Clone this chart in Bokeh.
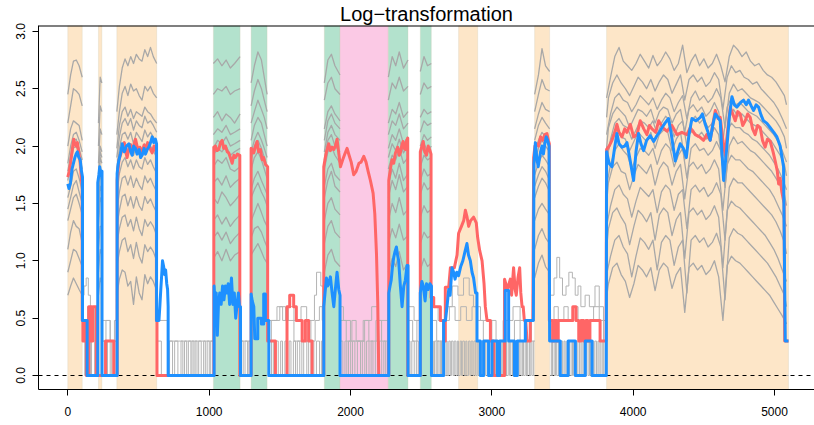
import math
from bokeh.plotting import figure
from bokeh.models import (Range1d, LinearAxis, FixedTicker, NumeralTickFormatter,
                          BoxAnnotation, Span)
from bokeh.embed import file_html
from bokeh.resources import INLINE

TITLE = "Log\u2212transformation"
X_TICKS = [0, 1000, 2000, 3000, 4000, 5000]
Y_TICKS = [0.0, 0.5, 1.0, 1.5, 2.0, 2.5, 3.0]

# shaded regions
REGION_START = [0, 217, 347, 1030, 1297, 1815, 1926, 2268, 2494, 2765, 3303, 3812]
REGION_END = [102, 241, 629, 1219, 1410, 1926, 2268, 2407, 2572, 2900, 3409, 5099]
REGION_KIND = ["orange", "orange", "orange", "green", "green", "green", "pink",
               "green", "green", "orange", "orange", "orange"]

# red series (x, y)
RED = [
    (0, 1.73), (10, 1.78), (19, 1.85), (30, 1.95), (42, 2.06), (50, 2.02), (59, 2.0), (68, 2.03),
    (78, 1.94), (88, 1.85), (97, 1.70), (102, 1.66),
    (102, 0.48), (107, 0.48), (107, 0.3), (111, 0.3), (111, 0.48), (116, 0.48), (116, 0.3),
    (120, 0.3), (120, 0.48), (125, 0.48), (125, 0.3), (132, 0.3), (132, 0),
    (148, 0), (148, 0.6), (156, 0.6), (156, 0.3), (161, 0.3), (161, 0.6), (170, 0.6), (170, 0.3),
    (176, 0.3), (176, 0.6), (202, 0.6), (202, 0),
    (267, 0), (267, 0.3), (325, 0.3), (325, 0),
    (349, 0), (349, 1.70), (356, 1.80), (362, 1.88), (372, 1.92), (385, 1.97), (400, 2.03),
    (410, 1.95), (420, 1.90), (432, 1.98), (445, 2.01), (460, 1.96), (470, 2.02), (479, 2.06),
    (490, 2.0), (500, 1.95), (510, 1.99), (526, 1.95), (540, 2.01), (555, 1.96), (565, 2.03),
    (573, 2.0), (585, 1.97), (597, 1.94), (610, 2.0), (620, 1.96), (627, 1.98),
    (627, 0.48), (631, 0.48), (631, 0),
    (1033, 0), (1033, 1.99), (1045, 2.0), (1055, 1.96), (1068, 1.97), (1080, 2.03), (1092, 2.05),
    (1103, 1.98), (1115, 2.0), (1128, 1.95), (1139, 1.94), (1150, 1.9), (1163, 1.85), (1175, 1.92),
    (1186, 1.9), (1200, 1.93), (1217, 1.92), (1217, 0),
    (1297, 0), (1297, 1.98), (1305, 1.97), (1316, 1.94), (1328, 2.0), (1339, 2.04), (1350, 1.95),
    (1363, 1.97), (1375, 1.88), (1386, 1.9), (1398, 1.84), (1414, 1.82),
    (1414, 0.3), (1469, 0.3), (1469, 0), (1551, 0), (1551, 0.6), (1570, 0.6), (1570, 0.7),
    (1598, 0.7), (1598, 0.6), (1617, 0.6), (1617, 0.48), (1658, 0.48), (1658, 0.3), (1681, 0.3),
    (1681, 0.48), (1704, 0.48), (1704, 0.3), (1728, 0.3), (1728, 0),
    (1811, 0), (1811, 1.82), (1822, 1.9), (1830, 1.95), (1846, 2.02), (1858, 1.96), (1870, 1.99),
    (1882, 1.97), (1893, 2.0), (1905, 2.06), (1915, 1.96), (1929, 1.82), (1945, 1.88), (1960, 1.93),
    (1976, 1.98), (1990, 1.92), (2005, 1.86), (2023, 1.75), (2040, 1.78), (2060, 1.85), (2075, 1.86),
    (2094, 1.91), (2110, 1.86), (2125, 1.78), (2141, 1.70), (2160, 1.59), (2172, 1.41), (2184, 1.06),
    (2193, 0.63), (2200, 0.02), (2200, 0),
    (2271, 0), (2271, 1.70), (2282, 1.80), (2294, 1.88), (2306, 1.85), (2318, 1.94), (2334, 1.99),
    (2345, 1.92), (2353, 1.94), (2362, 2.0), (2372, 2.04), (2380, 1.98), (2388, 1.97), (2398, 2.05),
    (2405, 2.07), (2405, 0),
    (2494, 0), (2494, 1.95), (2505, 2.0), (2515, 2.04), (2525, 1.95), (2538, 1.92), (2550, 2.0),
    (2560, 1.97), (2570, 1.93),
    (2570, 0.68), (2589, 0.68), (2589, 0.6), (2636, 0.6), (2636, 0.48), (2660, 0.48), (2660, 0.3),
    (2671, 0.3), (2671, 0.77), (2695, 0.77), (2707, 0.94), (2735, 0.94), (2754, 1.05), (2765, 1.24),
    (2785, 1.30), (2801, 1.35), (2813, 1.44), (2825, 1.38), (2836, 1.30), (2850, 1.35), (2871, 1.38),
    (2890, 1.33), (2900, 1.20), (2914, 1.09), (2931, 1.0), (2945, 0.8), (2954, 0.6), (2966, 0.48),
    (2990, 0.48), (2990, 0.3), (3013, 0.3), (3013, 0),
    (3090, 0), (3090, 0.84), (3110, 0.75), (3131, 0.84), (3140, 0.7), (3154, 0.94), (3165, 0.75),
    (3173, 0.7), (3185, 0.85), (3197, 0.94), (3205, 0.72), (3214, 0.6), (3222, 0.6), (3230, 0.48),
    (3240, 0.48), (3249, 0.3), (3272, 0.3), (3272, 0.48), (3290, 0.48),
    (3296, 1.90), (3305, 2.0), (3315, 2.02), (3330, 2.0), (3345, 2.08), (3360, 2.05), (3375, 2.1),
    (3390, 2.11), (3400, 2.05), (3407, 2.02),
    (3407, 0.48), (3430, 0.48), (3430, 0.3), (3440, 0.3), (3440, 0.48), (3460, 0.48), (3460, 0.3),
    (3470, 0.3), (3470, 0.48), (3573, 0.48), (3573, 0.6), (3596, 0.6), (3596, 0.48), (3615, 0.48),
    (3615, 0.3), (3630, 0.3), (3630, 0.48), (3650, 0.48), (3650, 0.3), (3665, 0.3), (3665, 0.48),
    (3680, 0.48), (3680, 0.3), (3694, 0.3), (3694, 0.48), (3766, 0.48), (3766, 0.3), (3808, 0.3),
    (3812, 1.97), (3830, 2.0), (3850, 2.05), (3870, 2.12), (3885, 2.19), (3900, 2.12), (3921, 2.08),
    (3940, 2.15), (3956, 2.12), (3980, 2.19), (4003, 2.08), (4027, 2.1), (4050, 2.22), (4075, 2.15),
    (4097, 2.1), (4115, 2.18), (4133, 2.15), (4160, 2.12), (4180, 2.22), (4210, 2.16), (4239, 2.13),
    (4274, 2.18), (4310, 2.1), (4345, 2.12), (4380, 2.1), (4404, 2.16), (4439, 2.10), (4470, 2.08),
    (4498, 2.05), (4520, 2.1), (4545, 2.05), (4565, 2.2), (4581, 2.31), (4600, 2.24), (4616, 2.25),
    (4635, 2.05), (4651, 1.92), (4670, 2.15), (4687, 2.34), (4705, 2.28), (4722, 2.22), (4740, 2.3),
    (4757, 2.28), (4775, 2.18), (4793, 2.22), (4810, 2.28), (4828, 2.25), (4845, 2.15), (4863, 2.10),
    (4880, 2.18), (4899, 2.16), (4915, 2.05), (4934, 1.99), (4950, 2.06), (4970, 2.04), (4990, 1.95),
    (5005, 1.87), (5020, 1.78), (5029, 1.67), (5040, 1.72), (5052, 1.60), (5068, 1.5), (5072, 0.3),
    (5099, 0.3),
]

# blue series (x, y)
BLUE = [
    (0, 1.67), (8, 1.63), (19, 1.68), (30, 1.80), (42, 1.86), (50, 1.90), (59, 1.93), (68, 1.95),
    (78, 1.90), (88, 1.88), (97, 1.78), (104, 1.73),
    (104, 0.48), (137, 0.48), (137, 0),
    (212, 0), (212, 1.68), (220, 1.75), (226, 1.82), (236, 1.74), (242, 1.78), (242, 0),
    (349, 0), (349, 1.76), (356, 1.84), (362, 1.88), (372, 1.93), (385, 2.02), (393, 1.97),
    (400, 1.95), (415, 2.0), (432, 2.02), (445, 1.95), (455, 1.92), (466, 2.0), (479, 1.98),
    (490, 1.93), (505, 1.97), (515, 1.9), (526, 1.92), (540, 1.98), (550, 1.93), (562, 1.97),
    (573, 1.99), (585, 2.03), (597, 2.08), (608, 2.03), (620, 2.06), (628, 2.02),
    (628, 0.48), (645, 0.48), (652, 0.62), (658, 0.75), (663, 0.85), (670, 1.0), (678, 0.95),
    (685, 0.88), (692, 0.92), (700, 0.8), (706, 0.75), (710, 0.6), (710, 0),
    (1035, 0), (1035, 0.78), (1042, 0.62), (1050, 0.72), (1058, 0.35), (1066, 0.62), (1075, 0.72),
    (1085, 0.62), (1095, 0.78), (1105, 0.66), (1115, 0.78), (1125, 0.72), (1135, 0.8), (1145, 0.62),
    (1158, 0.85), (1168, 0.62), (1178, 0.72), (1188, 0.5), (1198, 0.62), (1207, 0.72), (1215, 0.6),
    (1222, 0.6), (1222, 0),
    (1297, 0), (1297, 0.71), (1305, 0.65), (1316, 0.6), (1323, 0.32), (1344, 0.32), (1344, 0.5),
    (1370, 0.5), (1370, 0.45), (1386, 0.45), (1386, 0.71), (1398, 0.71), (1398, 0.48), (1422, 0.48),
    (1422, 0),
    (1811, 0), (1811, 0.6), (1820, 0.72), (1830, 0.85), (1838, 0.78), (1846, 0.8), (1858, 0.86),
    (1870, 0.72), (1882, 0.6), (1893, 0.75), (1905, 0.9), (1917, 0.75), (1926, 0.7), (1926, 0),
    (2271, 0), (2271, 0.72), (2280, 0.78), (2288, 0.83), (2297, 0.95), (2306, 1.03), (2315, 1.08),
    (2325, 1.12), (2333, 1.05), (2341, 1.0), (2353, 0.78), (2365, 0.6), (2377, 0.78), (2388, 0.83),
    (2400, 0.96), (2407, 0.96), (2407, 0),
    (2494, 0), (2494, 0.72), (2505, 0.82), (2515, 0.78), (2528, 0.65), (2538, 0.8), (2550, 0.75),
    (2562, 0.8), (2573, 0.78), (2573, 0),
    (2659, 0), (2659, 0.48), (2672, 0.48), (2683, 0.6), (2695, 0.75), (2705, 0.7), (2718, 0.94),
    (2730, 0.9), (2740, 0.84), (2752, 0.9), (2765, 0.87), (2780, 0.95), (2795, 1.0), (2810, 1.08),
    (2824, 1.15), (2835, 1.05), (2848, 1.0), (2860, 0.9), (2871, 0.85), (2885, 0.72), (2895, 0.72),
    (2895, 0.3), (2919, 0.3), (2919, 0), (2942, 0), (2942, 0.3), (2977, 0.3), (2977, 0), (3001, 0),
    (3001, 0.3), (3040, 0.3), (3040, 0), (3055, 0), (3055, 0.3), (3095, 0.3), (3095, 0.74),
    (3119, 0.74), (3119, 0.3), (3160, 0.3), (3160, 0), (3180, 0), (3180, 0.3), (3237, 0.3),
    (3237, 0.48), (3294, 0.48),
    (3298, 1.85), (3308, 2.03), (3318, 1.9), (3328, 1.82), (3336, 1.88), (3345, 1.95), (3355, 2.0),
    (3365, 1.93), (3375, 2.02), (3385, 2.08), (3395, 2.05), (3405, 2.0),
    (3409, 0.3), (3484, 0.3), (3484, 0), (3540, 0), (3540, 0.3), (3591, 0.3), (3591, 0), (3661, 0),
    (3661, 0.3), (3709, 0.3), (3709, 0), (3810, 0),
    (3812, 1.95), (3830, 1.85), (3850, 1.82), (3868, 1.98), (3885, 2.11), (3900, 2.02), (3921, 1.99),
    (3940, 2.0), (3956, 2.03), (3975, 1.9), (4003, 1.70), (4020, 1.95), (4038, 2.11), (4055, 2.02),
    (4074, 1.96), (4095, 2.05), (4121, 2.09), (4145, 2.04), (4168, 2.09), (4185, 2.12), (4204, 2.16),
    (4225, 2.2), (4250, 2.24), (4270, 2.1), (4298, 1.87), (4315, 1.95), (4333, 2.02), (4355, 1.98),
    (4376, 1.90), (4395, 2.1), (4416, 2.24), (4445, 2.22), (4475, 2.25), (4490, 2.28), (4510, 2.19),
    (4530, 2.12), (4545, 2.05), (4563, 2.18), (4581, 2.28), (4600, 2.25), (4616, 2.22), (4628, 1.95),
    (4640, 1.70), (4652, 1.85), (4663, 1.99), (4680, 2.25), (4699, 2.43), (4716, 2.36), (4734, 2.34),
    (4760, 2.38), (4781, 2.40), (4800, 2.36), (4816, 2.40), (4835, 2.35), (4852, 2.31), (4870, 2.36),
    (4887, 2.34), (4905, 2.27), (4922, 2.22), (4945, 2.2), (4970, 2.16), (4995, 2.12), (5017, 2.08),
    (5040, 2.0), (5064, 1.82), (5076, 0.3), (5099, 0.3),
]

# gray series inside the high regions: x grid and 12 series per region
GX_R1 = [0, 20, 40, 60, 80, 102]
GY_R1 = [
    [2.45, 2.62, 2.74, 2.75, 2.70, 2.60], [2.20, 2.35, 2.50, 2.48, 2.45, 2.35],
    [2.00, 2.15, 2.22, 2.20, 2.18, 2.05], [1.85, 2.00, 2.10, 2.12, 2.05, 1.95],
    [1.70, 1.85, 1.98, 2.00, 1.92, 1.80], [1.55, 1.65, 1.78, 1.80, 1.72, 1.60],
    [1.35, 1.45, 1.55, 1.58, 1.50, 1.40], [1.10, 1.25, 1.35, 1.30, 1.28, 1.15],
    [0.90, 1.00, 1.10, 1.08, 1.02, 0.95], [0.70, 0.78, 0.85, 0.80, 0.75, 0.70],
    [1.78, 1.92, 2.05, 2.06, 1.98, 1.88], [1.45, 1.55, 1.66, 1.70, 1.60, 1.50],
]
GX_R2 = [217, 229, 241]
GY_R2 = [
    [2.2, 2.6, 2.55], [2.0, 2.35, 2.3], [1.85, 2.15, 2.1], [1.75, 2.0, 1.95], [1.6, 1.9, 1.85],
    [1.45, 1.75, 1.7], [1.3, 1.55, 1.5], [1.1, 1.3, 1.3], [0.9, 1.1, 1.05], [0.7, 0.85, 0.8],
    [1.68, 1.95, 1.9], [1.38, 1.65, 1.6],
]
GX_R3 = [347, 365, 385, 405, 425, 445, 465, 485, 505, 525, 545, 565, 585, 605, 629]
GY_R3 = [
    [2.30, 2.52, 2.68, 2.76, 2.70, 2.78, 2.72, 2.80, 2.76, 2.74, 2.84, 2.78, 2.86, 2.78, 2.72],
    [2.10, 2.30, 2.46, 2.52, 2.44, 2.54, 2.48, 2.50, 2.44, 2.40, 2.52, 2.48, 2.52, 2.46, 2.42],
    [1.98, 2.18, 2.30, 2.34, 2.26, 2.32, 2.24, 2.30, 2.28, 2.26, 2.34, 2.30, 2.28, 2.24, 2.20],
    [1.90, 2.08, 2.20, 2.24, 2.18, 2.24, 2.14, 2.22, 2.18, 2.16, 2.26, 2.20, 2.22, 2.18, 2.12],
    [1.80, 1.98, 2.10, 2.12, 2.06, 2.12, 2.02, 2.12, 2.08, 2.04, 2.14, 2.08, 2.12, 2.08, 2.02],
    [1.70, 1.88, 1.98, 2.02, 1.94, 2.02, 1.92, 2.00, 1.96, 1.94, 2.02, 1.98, 2.00, 1.96, 1.90],
    [1.58, 1.76, 1.86, 1.90, 1.82, 1.88, 1.80, 1.88, 1.82, 1.80, 1.90, 1.84, 1.88, 1.82, 1.76],
    [1.44, 1.60, 1.72, 1.74, 1.66, 1.74, 1.64, 1.72, 1.66, 1.62, 1.74, 1.68, 1.72, 1.66, 1.60],
    [1.30, 1.44, 1.56, 1.58, 1.48, 1.56, 1.46, 1.56, 1.48, 1.44, 1.56, 1.50, 1.54, 1.48, 1.42],
    [1.15, 1.28, 1.38, 1.40, 1.30, 1.36, 1.26, 1.38, 1.28, 1.22, 1.36, 1.30, 1.34, 1.30, 1.22],
    [0.95, 1.08, 1.18, 1.20, 1.08, 1.14, 1.02, 1.16, 1.04, 0.98, 1.14, 1.08, 1.12, 1.08, 1.00],
    [0.70, 0.84, 0.92, 0.90, 0.78, 0.82, 0.62, 0.86, 0.72, 0.66, 0.88, 0.80, 0.86, 0.82, 0.74],
]
GX_G1 = [1030, 1060, 1090, 1120, 1150, 1180, 1219]
GY_G1 = [
    [2.72, 2.76, 2.70, 2.75, 2.68, 2.72, 2.78], [2.45, 2.50, 2.48, 2.52, 2.45, 2.48, 2.50],
    [2.25, 2.30, 2.22, 2.28, 2.25, 2.20, 2.28], [2.10, 2.15, 2.12, 2.18, 2.10, 2.12, 2.15],
    [1.98, 2.05, 2.02, 2.08, 2.00, 2.02, 2.05], [1.82, 1.88, 1.85, 1.90, 1.80, 1.78, 1.82],
    [1.55, 1.50, 1.60, 1.55, 1.48, 1.52, 1.58], [1.35, 1.40, 1.32, 1.38, 1.30, 1.35, 1.40],
    [1.20, 1.25, 1.18, 1.25, 1.15, 1.20, 1.25], [1.02, 1.08, 1.00, 1.10, 1.00, 1.05, 1.08],
    [1.92, 1.98, 1.95, 2.00, 1.92, 1.95, 1.98], [1.68, 1.72, 1.66, 1.74, 1.64, 1.68, 1.72],
]
GX_G2 = [1297, 1320, 1345, 1370, 1390, 1410]
GY_G2 = [
    [2.55, 2.70, 2.82, 2.75, 2.60, 2.45], [2.35, 2.48, 2.58, 2.50, 2.40, 2.30],
    [2.20, 2.30, 2.40, 2.32, 2.25, 2.15], [2.05, 2.18, 2.25, 2.20, 2.10, 2.00],
    [1.95, 2.05, 2.12, 2.05, 1.98, 1.90], [1.80, 1.90, 1.95, 1.88, 1.80, 1.72],
    [1.55, 1.62, 1.68, 1.60, 1.55, 1.48], [1.35, 1.42, 1.50, 1.42, 1.35, 1.30],
    [1.20, 1.28, 1.30, 1.25, 1.18, 1.12], [1.05, 1.10, 1.15, 1.08, 1.02, 0.98],
    [1.88, 2.00, 2.05, 1.98, 1.90, 1.82], [1.62, 1.72, 1.78, 1.70, 1.64, 1.58],
]
GX_G3 = [1815, 1840, 1865, 1890, 1926]
GY_G3 = [
    [2.55, 2.75, 2.80, 2.70, 2.62], [2.40, 2.55, 2.60, 2.50, 2.45], [2.15, 2.30, 2.35, 2.28, 2.22],
    [2.05, 2.22, 2.28, 2.20, 2.15], [1.95, 2.12, 2.18, 2.10, 2.05], [1.80, 1.95, 2.00, 1.92, 1.85],
    [1.55, 1.70, 1.78, 1.65, 1.60], [1.35, 1.50, 1.55, 1.45, 1.40], [1.15, 1.30, 1.35, 1.25, 1.20],
    [0.90, 1.05, 1.10, 1.00, 0.95], [1.88, 2.05, 2.10, 2.00, 1.95], [1.65, 1.80, 1.85, 1.75, 1.70],
]
GX_G4 = [2268, 2295, 2320, 2345, 2375, 2407]
GY_G4 = [
    [2.60, 2.78, 2.70, 2.82, 2.68, 2.75], [2.40, 2.55, 2.50, 2.60, 2.48, 2.52],
    [2.20, 2.32, 2.28, 2.38, 2.25, 2.30], [2.10, 2.22, 2.18, 2.28, 2.15, 2.20],
    [1.98, 2.10, 2.05, 2.15, 2.02, 2.08], [1.80, 1.92, 1.88, 1.98, 1.85, 1.90],
    [1.55, 1.70, 1.62, 1.75, 1.60, 1.65], [1.35, 1.50, 1.42, 1.55, 1.40, 1.45],
    [1.15, 1.28, 1.20, 1.32, 1.18, 1.22], [0.90, 1.02, 0.95, 1.08, 0.92, 0.98],
    [1.90, 2.02, 1.96, 2.06, 1.94, 2.00], [1.66, 1.80, 1.72, 1.85, 1.70, 1.76],
]
GX_G5 = [2494, 2520, 2545, 2572]
GY_G5 = [
    [2.65, 2.78, 2.70, 2.72], [2.45, 2.55, 2.50, 2.52], [2.25, 2.32, 2.28, 2.30],
    [2.12, 2.22, 2.18, 2.20], [2.00, 2.10, 2.05, 2.08], [1.82, 1.92, 1.88, 1.90],
    [1.58, 1.68, 1.62, 1.65], [1.38, 1.48, 1.42, 1.45], [1.15, 1.25, 1.20, 1.22],
    [0.92, 1.02, 0.95, 0.98], [1.92, 2.02, 1.96, 2.00], [1.70, 1.80, 1.74, 1.76],
]
GX_O5 = [3303, 3330, 3355, 3380, 3409]
GY_O5 = [
    [2.45, 2.62, 2.85, 2.70, 2.65], [2.30, 2.45, 2.58, 2.50, 2.48], [2.15, 2.28, 2.38, 2.32, 2.30],
    [2.05, 2.18, 2.25, 2.20, 2.15], [1.95, 2.05, 2.12, 2.08, 2.02], [1.75, 1.85, 1.92, 1.88, 1.82],
    [1.55, 1.65, 1.72, 1.68, 1.60], [1.35, 1.45, 1.50, 1.45, 1.40], [1.10, 1.22, 1.28, 1.20, 1.15],
    [0.85, 0.98, 1.05, 0.95, 0.90], [1.85, 1.98, 2.05, 2.00, 1.95], [1.65, 1.75, 1.82, 1.78, 1.70],
]
# big region: even-numbered series sampled on grid A, odd-numbered on grid B
GX_BIG_A = [3812, 3840, 3870, 3900, 3930, 3960, 3990, 4020, 4050, 4080, 4110, 4140, 4170, 4200,
            4230, 4260, 4290, 4320, 4350, 4380, 4410, 4440, 4470, 4500, 4530, 4560, 4590, 4620,
            4650, 4680, 4710, 4740, 4770, 4800, 4830, 4860, 4890, 4920, 4950, 4980, 5010, 5040,
            5070, 5085]
GX_BIG_B = [3812, 3825, 3855, 3885, 3915, 3945, 3975, 4005, 4035, 4065, 4095, 4125, 4155, 4185,
            4215, 4245, 4275, 4305, 4335, 4365, 4395, 4425, 4455, 4485, 4515, 4545, 4575, 4605,
            4635, 4665, 4695, 4725, 4755, 4785, 4815, 4845, 4875, 4905, 4935, 4965, 4995, 5025,
            5055, 5085]
GY_BIG = [
    [2.42, 2.60, 2.78, 2.86, 2.74, 2.70, 2.66, 2.72, 2.80, 2.74, 2.68, 2.79, 2.70, 2.75, 2.82,
     2.76, 2.66, 2.72, 2.88, 2.64, 2.74, 2.80, 2.70, 2.76, 2.68, 2.72, 2.80, 2.70, 2.56, 2.78,
     2.88, 2.84, 2.78, 2.82, 2.74, 2.70, 2.72, 2.66, 2.62, 2.60, 2.56, 2.50, 2.44, 2.36],
    [2.25, 2.42, 2.55, 2.62, 2.55, 2.50, 2.44, 2.52, 2.60, 2.56, 2.50, 2.58, 2.48, 2.56, 2.62,
     2.58, 2.46, 2.54, 2.62, 2.40, 2.58, 2.62, 2.56, 2.60, 2.52, 2.56, 2.64, 2.58, 2.32, 2.60,
     2.70, 2.64, 2.66, 2.60, 2.58, 2.54, 2.56, 2.50, 2.46, 2.42, 2.38, 2.32, 2.24, 2.15],
    [2.10, 2.28, 2.42, 2.46, 2.40, 2.38, 2.30, 2.36, 2.44, 2.40, 2.36, 2.42, 2.32, 2.40, 2.46,
     2.42, 2.30, 2.38, 2.44, 2.24, 2.42, 2.48, 2.40, 2.44, 2.38, 2.42, 2.50, 2.42, 2.16, 2.46,
     2.54, 2.48, 2.50, 2.46, 2.42, 2.40, 2.38, 2.34, 2.30, 2.26, 2.22, 2.16, 2.08, 1.98],
    [1.98, 2.16, 2.28, 2.34, 2.30, 2.26, 2.16, 2.24, 2.32, 2.30, 2.26, 2.32, 2.20, 2.30, 2.34,
     2.32, 2.20, 2.28, 2.32, 2.12, 2.32, 2.36, 2.30, 2.34, 2.26, 2.30, 2.38, 2.30, 2.04, 2.34,
     2.42, 2.36, 2.38, 2.34, 2.30, 2.28, 2.26, 2.22, 2.18, 2.14, 2.10, 2.04, 1.96, 1.86],
    [1.88, 2.06, 2.20, 2.24, 2.18, 2.16, 2.06, 2.14, 2.22, 2.20, 2.16, 2.22, 2.10, 2.20, 2.26,
     2.22, 2.08, 2.18, 2.22, 2.00, 2.22, 2.26, 2.20, 2.24, 2.16, 2.20, 2.28, 2.20, 1.92, 2.24,
     2.32, 2.26, 2.28, 2.24, 2.20, 2.18, 2.16, 2.12, 2.08, 2.04, 1.98, 1.92, 1.84, 1.74],
    [1.78, 1.96, 2.10, 2.14, 2.08, 2.06, 1.96, 2.04, 2.12, 2.08, 2.04, 2.12, 1.98, 2.10, 2.14,
     2.12, 1.96, 2.06, 2.12, 1.88, 2.10, 2.14, 2.08, 2.12, 2.06, 2.08, 2.16, 2.10, 1.80, 2.12,
     2.20, 2.16, 2.16, 2.12, 2.10, 2.06, 2.04, 2.00, 1.96, 1.92, 1.86, 1.80, 1.72, 1.62],
    [1.65, 1.84, 1.96, 2.02, 1.96, 1.92, 1.80, 1.90, 1.98, 1.96, 1.92, 1.98, 1.84, 1.96, 2.02,
     1.98, 1.82, 1.92, 1.98, 1.72, 1.98, 2.02, 1.96, 1.98, 1.92, 1.96, 2.04, 1.96, 1.64, 2.00,
     2.08, 2.02, 2.04, 2.00, 1.96, 1.94, 1.90, 1.86, 1.82, 1.78, 1.72, 1.66, 1.58, 1.48],
    [1.50, 1.68, 1.82, 1.86, 1.78, 1.76, 1.62, 1.74, 1.84, 1.80, 1.76, 1.84, 1.66, 1.80, 1.86,
     1.82, 1.66, 1.78, 1.84, 1.54, 1.82, 1.86, 1.80, 1.84, 1.76, 1.80, 1.88, 1.80, 1.44, 1.84,
     1.92, 1.88, 1.88, 1.84, 1.80, 1.78, 1.74, 1.70, 1.66, 1.62, 1.56, 1.48, 1.40, 1.30],
    [1.30, 1.48, 1.62, 1.66, 1.58, 1.54, 1.38, 1.52, 1.64, 1.60, 1.56, 1.62, 1.42, 1.60, 1.66,
     1.62, 1.44, 1.58, 1.62, 1.28, 1.62, 1.66, 1.60, 1.64, 1.56, 1.60, 1.68, 1.58, 1.18, 1.64,
     1.72, 1.68, 1.68, 1.64, 1.60, 1.56, 1.52, 1.48, 1.44, 1.40, 1.34, 1.26, 1.16, 1.06],
    [1.10, 1.28, 1.42, 1.46, 1.38, 1.32, 1.14, 1.30, 1.44, 1.40, 1.34, 1.42, 1.18, 1.40, 1.46,
     1.42, 1.22, 1.36, 1.42, 1.02, 1.42, 1.46, 1.40, 1.44, 1.36, 1.40, 1.48, 1.38, 0.94, 1.44,
     1.52, 1.48, 1.46, 1.42, 1.38, 1.34, 1.30, 1.26, 1.22, 1.16, 1.10, 1.02, 0.92, 0.82],
    [0.88, 1.04, 1.18, 1.22, 1.12, 1.06, 0.86, 1.04, 1.20, 1.16, 1.10, 1.18, 0.92, 1.16, 1.22,
     1.18, 0.96, 1.12, 1.18, 0.72, 1.18, 1.22, 1.16, 1.20, 1.12, 1.16, 1.24, 1.12, 0.66, 1.20,
     1.28, 1.24, 1.22, 1.18, 1.14, 1.10, 1.06, 1.02, 0.98, 0.92, 0.86, 0.78, 0.70, 0.60],
    [0.68, 0.80, 0.94, 0.98, 0.88, 0.82, 0.68, 0.80, 0.96, 0.92, 0.86, 0.94, 0.74, 0.92, 0.98,
     0.94, 0.76, 0.88, 0.94, 0.55, 0.94, 0.98, 0.92, 0.96, 0.88, 0.92, 1.00, 0.86, 0.48, 0.96,
     1.04, 1.00, 0.98, 0.94, 0.90, 0.86, 0.82, 0.78, 0.74, 0.70, 0.64, 0.58, 0.52, 0.45],
]

# low gray step series: (x, level from x until next x); None = no line
LOW_A = [
    (102, 0.3), (120, 0), (131, 0.3), (160, 0), (168, 0.3), (190, 0), (200, 0.3), (217, None),
    (241, 0.3), (265, 0), (281, 0.3), (300, 0), (311, 0.3), (347, None),
    (629, 0.3), (662, 0), (720, 0.3), (741, 0), (756, 0.3), (779, 0), (801, 0.3), (814, 0),
    (826, 0.3), (841, 0), (853, 0.3), (871, 0), (879, 0.3), (892, 0), (901, 0.3), (914, 0),
    (926, 0.3), (944, 0), (961, 0.3), (973, 0), (986, 0.3), (1001, 0), (1011, 0.3), (1030, None),
    (1219, 0.3), (1241, 0), (1254, 0.3), (1271, 0), (1281, 0.3), (1297, None),
    (1410, 0.3), (1426, 0), (1441, 0.3), (1454, 0), (1471, 0.3), (1489, 0), (1506, 0.3), (1519, 0),
    (1536, 0.3), (1551, 0), (1566, 0.3), (1579, 0), (1596, 0.3), (1611, 0), (1624, 0.3), (1641, 0),
    (1656, 0.3), (1669, 0), (1691, 0.3), (1704, 0), (1721, 0.3), (1741, 0), (1759, 0.3), (1781, 0),
    (1794, 0.3), (1815, None),
    (1926, 0.3), (1946, 0), (1961, 0.3), (1974, 0), (1986, 0.3), (2001, 0), (2014, 0.3), (2031, 0),
    (2049, 0.3), (2071, 0), (2084, 0.3), (2101, 0), (2114, 0.3), (2131, 0), (2146, 0.3), (2159, 0),
    (2176, 0.3), (2191, 0), (2204, 0.3), (2221, 0), (2236, 0.3), (2249, 0), (2261, 0.3), (2268, None),
    (2407, 0.3), (2421, 0), (2434, 0.3), (2451, 0), (2466, 0.3), (2479, 0), (2488, 0.3), (2494, None),
    (2572, 0.3), (2586, 0), (2594, 0.3), (2606, 0), (2614, 0.3), (2626, 0), (2636, 0.3), (2644, 0),
    (2656, 0.3), (2664, 0), (2676, 0.3), (2684, 0), (2696, 0.3), (2706, 0), (2714, 0.3), (2726, 0),
    (2734, 0.3), (2746, 0), (2756, 0.3), (2764, 0), (2776, 0.3), (2786, 0), (2794, 0.3), (2806, 0),
    (2816, 0.3), (2824, 0), (2836, 0.3), (2846, 0), (2854, 0.3), (2866, 0), (2874, 0.3), (2886, 0),
    (2896, 0.3), (2904, 0), (2916, 0.3), (2924, 0), (2936, 0.3), (2946, 0), (2954, 0.3), (2966, 0),
    (2976, 0.3), (2984, 0), (2996, 0.3), (3006, 0), (3014, 0.3), (3026, 0), (3036, 0.3), (3044, 0),
    (3056, 0.3), (3066, 0), (3074, 0.3), (3086, 0), (3096, 0.3), (3104, 0), (3116, 0.3), (3126, 0),
    (3134, 0.3), (3146, 0), (3156, 0.3), (3164, 0), (3176, 0.3), (3186, 0), (3194, 0.3), (3206, 0),
    (3216, 0.3), (3224, 0), (3236, 0.3), (3246, 0), (3254, 0.3), (3266, 0), (3276, 0.3), (3284, 0),
    (3296, 0.3), (3303, None),
    (3409, 0.3), (3421, 0), (3429, 0.3), (3441, 0), (3451, 0.3), (3459, 0), (3471, 0.3), (3481, 0),
    (3489, 0.3), (3501, 0), (3511, 0.3), (3519, 0), (3531, 0.3), (3541, 0), (3549, 0.3), (3561, 0),
    (3571, 0.3), (3579, 0), (3591, 0.3), (3601, 0), (3609, 0.3), (3621, 0), (3631, 0.3), (3639, 0),
    (3651, 0.3), (3661, 0), (3669, 0.3), (3681, 0), (3691, 0.3), (3699, 0), (3711, 0.3), (3721, 0),
    (3729, 0.3), (3741, 0), (3751, 0.3), (3759, 0), (3771, 0.3), (3781, 0), (3789, 0.3), (3801, 0),
    (3812, None),
    (5085, 0), (5100, None),
]
LOW_B = [
    (102, 0.48), (125, 0.3), (140, 0.6), (152, 0.48), (175, 0.3), (190, 0.48), (217, None),
    (241, 0.3), (270, 0.48), (300, 0.3), (330, 0.48), (347, None),
    (629, 0.48), (705, 0.3), (1030, None),
    (1219, 0.3), (1297, None),
    (1410, 0.3), (1440, 0.48), (1480, 0.6), (1520, 0.48), (1560, 0.6), (1600, 0.48), (1650, 0.6),
    (1690, 0.48), (1720, 0.3), (1750, 0.48), (1780, 0.6), (1800, 0.48), (1815, None),
    (1926, 0.48), (1970, 0.3), (2010, 0.48), (2040, 0.3), (2090, 0.48), (2130, 0.3), (2180, 0.48),
    (2220, 0.3), (2268, None),
    (2407, 0.48), (2440, 0.3), (2470, 0.48), (2494, None),
    (2572, 0.48), (2610, 0.3), (2660, 0.48), (2700, 0.6), (2740, 0.48), (2780, 0.6), (2820, 0.48),
    (2860, 0.6), (2900, 0.48), (2940, 0.3), (2990, 0.48), (3030, 0.3), (3080, 0.48), (3120, 0.3),
    (3160, 0.48), (3200, 0.3), (3240, 0.48), (3280, 0.3), (3303, None),
    (3409, 0.48), (3440, 0.6), (3470, 0.48), (3510, 0.6), (3540, 0.48), (3570, 0.6), (3610, 0.48),
    (3640, 0.3), (3680, 0.48), (3720, 0.6), (3760, 0.48), (3790, 0.3), (3812, None),
]
LOW_C = [
    (102, 0.7), (115, 0.78), (130, 0.85), (145, 0.7), (160, 0.6), (190, 0.48), (217, None),
    (241, 0.48), (300, 0.3), (347, None),
    (1410, 0.48), (1500, 0.6), (1540, 0.48), (1600, 0.3), (1700, 0.48), (1745, 0.7), (1760, 0.9),
    (1790, 0.78), (1805, 0.6), (1815, None),
    (1926, 0.6), (1950, 0.48), (2000, 0.3), (2100, 0.48), (2150, 0.6), (2190, 0.48), (2268, None),
    (2407, 0.6), (2450, 0.48), (2494, None),
    (2572, 0.6), (2620, 0.48), (2680, 0.6), (2720, 0.78), (2760, 0.7), (2800, 0.85), (2840, 0.7),
    (2870, 0.6), (2920, 0.48), (3000, 0.3), (3100, 0.48), (3150, 0.6), (3200, 0.48), (3303, None),
    (3409, 0.7), (3440, 0.85), (3460, 1.03), (3480, 0.85), (3500, 0.7), (3525, 0.78), (3545, 0.9),
    (3570, 0.85), (3590, 0.7), (3610, 0.78), (3630, 0.6), (3660, 0.7), (3690, 0.6), (3730, 0.78),
    (3760, 0.6), (3790, 0.48), (3812, None),
]

# ---------------------------------------------------------------- styling
COLORS = {"orange": "#FDE6C8", "green": "#B3E2CD", "pink": "#FBC9E5"}
BORDER = "#D2CBB2"
GRAY = "#A8A8A8"
LOW_GRAY = "#B4B4B4"
RED_C = "#FF6666"
BLUE_C = "#1E90FF"
FONT = "Liberation Sans"

X_MIN, X_MAX = -207.3, 5283.0
Y_MIN, Y_MAX = -0.122, 3.051

p = figure(width=814, height=425, output_backend="svg", toolbar_location=None,
           title=TITLE,
           x_range=Range1d(X_MIN, X_MAX), y_range=Range1d(Y_MIN, Y_MAX),
           x_axis_location=None, y_axis_location=None,
           min_border_left=38, min_border_right=0, min_border_top=25, min_border_bottom=36)
p.outline_line_color = None
p.background_fill_color = "white"
p.border_fill_color = "white"
p.xgrid.visible = False
p.ygrid.visible = False

p.title.align = "center"
p.title.text_font = FONT
p.title.text_font_size = "20px"
p.title.text_font_style = "normal"
p.title.text_color = "black"
p.title.standoff = 1
p.title.offset = 0


def style_axis(ax):
    ax.axis_line_color = "black"
    ax.axis_line_width = 1
    ax.major_tick_line_color = "black"
    ax.major_tick_in = 0
    ax.major_tick_out = 6
    ax.minor_tick_line_color = None
    ax.major_label_text_font = FONT
    ax.major_label_text_font_size = "12px"
    ax.major_label_text_color = "black"


xax = LinearAxis(ticker=FixedTicker(ticks=X_TICKS), formatter=NumeralTickFormatter(format="0"))
style_axis(xax)
xax.major_label_standoff = 11
p.add_layout(xax, "below")

yax = LinearAxis(ticker=FixedTicker(ticks=Y_TICKS), formatter=NumeralTickFormatter(format="0.0"))
style_axis(yax)
yax.major_label_orientation = "vertical"
yax.major_label_standoff = 7
p.add_layout(yax, "left")

# shaded regions
for s, e, k in zip(REGION_START, REGION_END, REGION_KIND):
    p.add_layout(BoxAnnotation(left=s, right=e, fill_color=COLORS[k], fill_alpha=1.0,
                               line_color=BORDER, line_width=1, level="underlay"))

p.add_layout(Span(location=0, dimension="width", line_color="black", line_dash="4 4",
                  line_width=1, level="underlay"))


def step_vertices(pairs):
    vx, vy = [], []
    for (x0, y0), (x1, _) in zip(pairs[:-1], pairs[1:]):
        if y0 is None:
            vx.append(float("nan"))
            vy.append(float("nan"))
            continue
        vx += [x0, x1]
        vy += [y0, y0]
    return vx, vy


for low in (LOW_A, LOW_B, LOW_C):
    lx, ly = step_vertices(low)
    p.line(lx, ly, line_color=LOW_GRAY, line_width=1)

small_grids = [(GX_R1, GY_R1), (GX_R2, GY_R2), (GX_R3, GY_R3), (GX_G1, GY_G1), (GX_G2, GY_G2),
               (GX_G3, GY_G3), (GX_G4, GY_G4), (GX_G5, GY_G5), (GX_O5, GY_O5)]
for i in range(12):
    gx, gy = [], []
    for xs, series in small_grids:
        gx += list(xs) + [float("nan")]
        gy += list(series[i]) + [float("nan")]
    big_x = GX_BIG_A if i % 2 == 0 else GX_BIG_B
    gx += list(big_x)
    gy += list(GY_BIG[i])
    p.line(gx, gy, line_color=GRAY, line_width=1.3, line_join="round")

p.line([a for a, b in RED], [b for a, b in RED], line_color=RED_C, line_width=3,
       line_join="round")
p.line([a for a, b in BLUE], [b for a, b in BLUE], line_color=BLUE_C, line_width=3,
       line_join="round")

# top edge of the plot box (box continues past the right edge of the window)
p.add_layout(Span(location=Y_MAX, dimension="width", line_color="black", line_width=2))

open("out.html", "w").write(file_html(p, INLINE))
